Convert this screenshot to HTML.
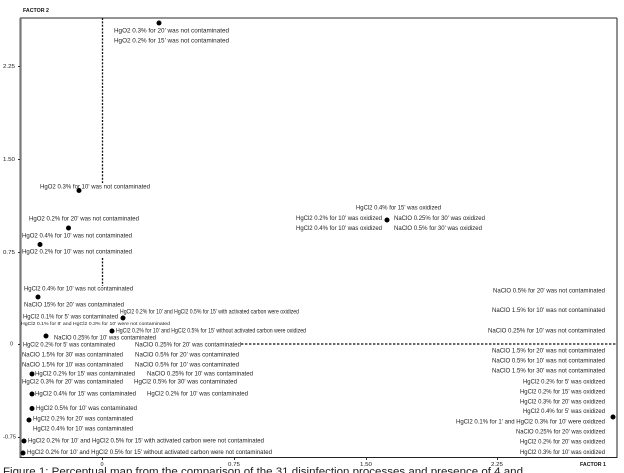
<!DOCTYPE html>
<html><head><meta charset="utf-8"><style>
html,body{margin:0;padding:0;background:#fff;width:624px;height:473px;overflow:hidden}
svg{display:block;filter:blur(0.3px)}
text{font-family:"Liberation Sans",sans-serif;font-size:6.3px;fill:#222;dominant-baseline:middle}
.t{font-size:5.5px}
.b{font-weight:bold;font-size:5.5px;fill:#111}
</style></head><body>
<svg width="624" height="473" viewBox="0 0 624 473" xmlns="http://www.w3.org/2000/svg">
<line x1="20" y1="18" x2="617" y2="18" stroke="#555" stroke-width="1.3"/>
<line x1="20.5" y1="18" x2="20.5" y2="458" stroke="#777" stroke-width="2.2"/>
<line x1="617" y1="18" x2="617" y2="458" stroke="#222" stroke-width="1"/>
<line x1="20" y1="457.5" x2="617" y2="457.5" stroke="#222" stroke-width="1"/>
<line x1="102.5" y1="18" x2="102.5" y2="183" stroke="#111" stroke-width="1.3" stroke-dasharray="2 1.4"/>
<line x1="102.5" y1="258" x2="102.5" y2="286" stroke="#111" stroke-width="1.3" stroke-dasharray="2 1.4"/>
<line x1="241" y1="344" x2="617" y2="344" stroke="#111" stroke-width="1.2" stroke-dasharray="2.4 1.6"/>
<g stroke="#333" stroke-width="1">
<line x1="18" y1="66.500" x2="20" y2="66.500"/><line x1="18" y1="159.500" x2="20" y2="159.500"/><line x1="18" y1="252.500" x2="20" y2="252.500"/><line x1="18" y1="344.500" x2="20" y2="344.500"/><line x1="18" y1="437.500" x2="20" y2="437.500"/>
<line x1="102.500" y1="458" x2="102.500" y2="460"/><line x1="234.500" y1="458" x2="234.500" y2="460"/><line x1="366.500" y1="458" x2="366.500" y2="460"/><line x1="497.500" y1="458" x2="497.500" y2="460"/>
</g>
<g fill="#000">
<circle cx="159" cy="23" r="2.5"/><circle cx="79" cy="190.500" r="2.5"/><circle cx="68.500" cy="228" r="2.5"/><circle cx="40" cy="244.500" r="2.5"/><circle cx="38" cy="297" r="2.5"/><circle cx="123" cy="318" r="2.5"/><circle cx="112" cy="331" r="2.5"/><circle cx="46" cy="336" r="2.5"/><circle cx="32" cy="374" r="2.5"/><circle cx="32" cy="394" r="2.5"/><circle cx="32" cy="408.500" r="2.5"/><circle cx="29" cy="420" r="2.5"/><circle cx="24" cy="441" r="2.5"/><circle cx="23" cy="453" r="2.5"/><circle cx="387" cy="220" r="2.5"/><circle cx="613" cy="417" r="2.5"/>
</g>
<text class="b" x="23" y="10.500" textLength="26" lengthAdjust="spacingAndGlyphs">FACTOR 2</text>
<text class="b" x="580" y="464.500" textLength="26" lengthAdjust="spacingAndGlyphs">FACTOR 1</text>
<text class="t" x="3" y="66.500" textLength="12" lengthAdjust="spacingAndGlyphs">2.25</text>
<text class="t" x="3" y="159.500" textLength="12" lengthAdjust="spacingAndGlyphs">1.50</text>
<text class="t" x="3" y="252.500" textLength="12" lengthAdjust="spacingAndGlyphs">0.75</text>
<text class="t" x="10" y="344">0</text>
<text class="t" x="3" y="437" textLength="13" lengthAdjust="spacingAndGlyphs">-0.75</text>
<text class="t" x="100.500" y="464.500">0</text>
<text class="t" x="228" y="464.500" textLength="12" lengthAdjust="spacingAndGlyphs">0.75</text>
<text class="t" x="360" y="464.500" textLength="12" lengthAdjust="spacingAndGlyphs">1.50</text>
<text class="t" x="491" y="464.500" textLength="12" lengthAdjust="spacingAndGlyphs">2.25</text>
<g>
<text x="114" y="31" textLength="115" lengthAdjust="spacingAndGlyphs">HgO2 0.3% for 20' was not contaminated</text>
<text x="114" y="41" textLength="115" lengthAdjust="spacingAndGlyphs">HgO2 0.2% for 15' was not contaminated</text>
<text x="40" y="186.700" textLength="110" lengthAdjust="spacingAndGlyphs">HgO2 0.3% for 10' was not contaminated</text>
<text x="29" y="219" textLength="110" lengthAdjust="spacingAndGlyphs">HgO2 0.2% for 20' was not contaminated</text>
<text x="22" y="236" textLength="110" lengthAdjust="spacingAndGlyphs">HgO2 0.4% for 10' was not contaminated</text>
<text x="22" y="252" textLength="110" lengthAdjust="spacingAndGlyphs">HgO2 0.2% for 10' was not contaminated</text>
<text x="24" y="289" textLength="109" lengthAdjust="spacingAndGlyphs">HgCl2 0.4% for 10' was not contaminated</text>
<text x="24" y="305" textLength="100" lengthAdjust="spacingAndGlyphs">NaClO 15% for 20' was contaminated</text>
<text x="23" y="317" textLength="95" lengthAdjust="spacingAndGlyphs">HgCl2 0.1% for 5' was contaminated</text>
<text x="120" y="312" textLength="179" lengthAdjust="spacingAndGlyphs">HgCl2 0.2% for 10' and HgCl2 0.5% for 15' with activated carbon were oxidized</text>
<text x="21" y="324" textLength="149" lengthAdjust="spacingAndGlyphs" style="font-size:4.6px">HgCl2 0.1% for 8' and HgCl2 0.3% for 10' were not contaminated</text>
<text x="116" y="331" textLength="190" lengthAdjust="spacingAndGlyphs">HgCl2 0.2% for 10' and HgCl2 0.5% for 15' without activated carbon were oxidized</text>
<text x="54" y="338" textLength="102" lengthAdjust="spacingAndGlyphs">NaClO 0.25% for 10' was contaminated</text>
<text x="23" y="345" textLength="92" lengthAdjust="spacingAndGlyphs">HgCl2 0.2% for 5' was contaminated</text>
<text x="135" y="345" textLength="106" lengthAdjust="spacingAndGlyphs">NaClO 0.25% for 20' was contaminated</text>
<text x="22" y="355" textLength="101" lengthAdjust="spacingAndGlyphs">NaClO 1.5% for 30' was contaminated</text>
<text x="135" y="355" textLength="104" lengthAdjust="spacingAndGlyphs">NaClO 0.5% for 20' was contaminated</text>
<text x="22" y="365" textLength="101" lengthAdjust="spacingAndGlyphs">NaClO 1.5% for 10' was contaminated</text>
<text x="135" y="365" textLength="104" lengthAdjust="spacingAndGlyphs">NaClO 0.5% for 10' was contaminated</text>
<text x="35" y="374" textLength="100" lengthAdjust="spacingAndGlyphs">HgCl2 0.2% for 15' was contaminated</text>
<text x="147" y="374" textLength="106" lengthAdjust="spacingAndGlyphs">NaClO 0.25% for 10' was contaminated</text>
<text x="22" y="382" textLength="101" lengthAdjust="spacingAndGlyphs">HgCl2 0.3% for 20' was contaminated</text>
<text x="134" y="382" textLength="103" lengthAdjust="spacingAndGlyphs">HgCl2 0.5% for 30' was contaminated</text>
<text x="35" y="394" textLength="101" lengthAdjust="spacingAndGlyphs">HgCl2 0.4% for 15' was contaminated</text>
<text x="147" y="394" textLength="101" lengthAdjust="spacingAndGlyphs">HgCl2 0.2% for 10' was contaminated</text>
<text x="36" y="408.500" textLength="101" lengthAdjust="spacingAndGlyphs">HgCl2 0.5% for 10' was contaminated</text>
<text x="33" y="419" textLength="100" lengthAdjust="spacingAndGlyphs">HgCl2 0.2% for 20' was contaminated</text>
<text x="33" y="429" textLength="100" lengthAdjust="spacingAndGlyphs">HgCl2 0.4% for 10' was contaminated</text>
<text x="28" y="441" textLength="236" lengthAdjust="spacingAndGlyphs">HgCl2 0.2% for 10' and HgCl2 0.5% for 15' with activated carbon were not contaminated</text>
<text x="27" y="452.500" textLength="245" lengthAdjust="spacingAndGlyphs">HgCl2 0.2% for 10' and HgCl2 0.5% for 15' without activated carbon were not contaminated</text>
<text x="356" y="208" textLength="85" lengthAdjust="spacingAndGlyphs">HgCl2 0.4% for 15' was oxidized</text>
<text x="296" y="218.500" textLength="86" lengthAdjust="spacingAndGlyphs">HgCl2 0.2% for 10' was oxidized</text>
<text x="394" y="218.500" textLength="91" lengthAdjust="spacingAndGlyphs">NaClO 0.25% for 30' was oxidized</text>
<text x="296" y="228.500" textLength="86" lengthAdjust="spacingAndGlyphs">HgCl2 0.4% for 10' was oxidized</text>
<text x="394" y="228.500" textLength="88" lengthAdjust="spacingAndGlyphs">NaClO 0.5% for 30' was oxidized</text>
<text x="493" y="291" textLength="112" lengthAdjust="spacingAndGlyphs">NaClO 0.5% for 20' was not contaminated</text>
<text x="492" y="310.500" textLength="113" lengthAdjust="spacingAndGlyphs">NaClO 1.5% for 10' was not contaminated</text>
<text x="488" y="331" textLength="117" lengthAdjust="spacingAndGlyphs">NaClO 0.25% for 10' was not contaminated</text>
<text x="492" y="351" textLength="113" lengthAdjust="spacingAndGlyphs">NaClO 1.5% for 20' was not contaminated</text>
<text x="492" y="361" textLength="113" lengthAdjust="spacingAndGlyphs">NaClO 0.5% for 10' was not contaminated</text>
<text x="492" y="371" textLength="113" lengthAdjust="spacingAndGlyphs">NaClO 1.5% for 30' was not contaminated</text>
<text x="523" y="382" textLength="82" lengthAdjust="spacingAndGlyphs">HgCl2 0.2% for 5' was oxidized</text>
<text x="520" y="392" textLength="85" lengthAdjust="spacingAndGlyphs">HgCl2 0.2% for 15' was oxidized</text>
<text x="520" y="402" textLength="85" lengthAdjust="spacingAndGlyphs">HgCl2 0.3% for 20' was oxidized</text>
<text x="523" y="411.500" textLength="82" lengthAdjust="spacingAndGlyphs">HgCl2 0.4% for 5' was oxidized</text>
<text x="456" y="422" textLength="149" lengthAdjust="spacingAndGlyphs">HgCl2 0.1% for 1' and HgCl2 0.3% for 10' were oxidized</text>
<text x="516" y="432" textLength="89" lengthAdjust="spacingAndGlyphs">NaClO 0.25% for 20' was oxidized</text>
<text x="520" y="442" textLength="85" lengthAdjust="spacingAndGlyphs">HgCl2 0.2% for 20' was oxidized</text>
<text x="520" y="452.500" textLength="85" lengthAdjust="spacingAndGlyphs">HgCl2 0.3% for 10' was oxidized</text>
</g>
<text x="3" y="472" textLength="520" lengthAdjust="spacingAndGlyphs" style="font-size:11px;fill:#222">Figure 1: Perceptual map from the comparison of the 31 disinfection processes and presence of 4 and</text>
</svg>
</body></html>
